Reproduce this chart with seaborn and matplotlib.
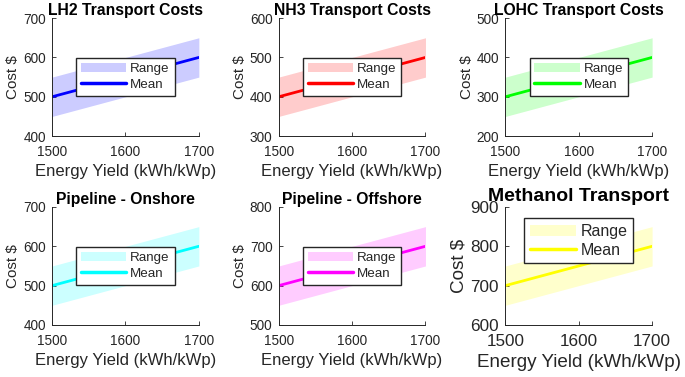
import numpy as np
import seaborn as sns
import matplotlib.pyplot as plt
from matplotlib.patches import Patch
from matplotlib.lines import Line2D

# energy yield (kWh/kWp) and mean costs
energy_yield = [1500, 1600, 1700]
titles = ['LH2 Transport Costs', 'NH3 Transport Costs', 'LOHC Transport Costs',
          'Pipeline - Onshore', 'Pipeline - Offshore', 'Methanol Transport']
lh2_mean = [500, 550, 600]
nh3_mean = [400, 450, 500]
lohc_mean = [300, 350, 400]
onshore_mean = [500, 550, 600]
offshore_mean = [600, 650, 700]
methanol_mean = [700, 750, 800]
spread = 50  # +/- range around the mean
y_limits = [(400, 700), (300, 600), (200, 500), (400, 700), (500, 800), (600, 900)]
colors = ['#0000ff', '#ff0000', '#00ff00', '#00ffff', '#ff00ff', '#ffff00']

means = [lh2_mean, nh3_mean, lohc_mean, onshore_mean, offshore_mean, methanol_mean]

sns.set_style('ticks')
plt.rcParams['font.family'] = ['Liberation Sans', 'DejaVu Sans']
text_col = '#262626'

fig, axes = plt.subplots(2, 3, figsize=(6.85, 3.77), dpi=100)
fig.subplots_adjust(left=0.076, right=0.952, top=0.952, bottom=0.138,
                    wspace=0.544, hspace=0.6)

for i, ax in enumerate(axes.flat):
    m = np.array(means[i])
    c = colors[i]
    big = (i == 5)
    ax.fill_between(energy_yield, m - spread, m + spread, color=c, alpha=0.2,
                    linewidth=0)
    sns.lineplot(x=energy_yield, y=m, ax=ax, color=c, linewidth=2)
    ax.set_xlim(1500, 1700)
    ax.set_ylim(*y_limits[i])
    ax.set_xticks([1500, 1600, 1700])
    lo, hi = y_limits[i]
    ax.set_yticks(np.arange(lo, hi + 1, 100))
    ax.set_title(titles[i], fontsize=14 if big else 11.3, fontweight='bold',
                 color='black', pad=4 if big else 1.5)
    ax.set_xlabel('Energy Yield (kWh/kWp)', fontsize=13.6 if big else 12,
                  color=text_col, labelpad=3.5)
    ax.set_ylabel('Cost $', fontsize=13.6 if big else 11, color=text_col,
                  labelpad=2)
    ax.tick_params(direction='in', length=3, labelsize=12.3 if big else 9.8,
                   colors=text_col, width=0.6)
    ax.tick_params(axis='x', pad=6.5)
    ax.tick_params(axis='y', pad=4.5)
    for s in ['top', 'right']:
        ax.spines[s].set_visible(False)
    for s in ['left', 'bottom']:
        ax.spines[s].set_color(text_col)
        ax.spines[s].set_linewidth(0.7)
    handles = [Patch(facecolor=c, alpha=0.2, edgecolor='none'),
               Line2D([0], [0], color=c, linewidth=2.5)]
    ax.legend(handles, ['Range', 'Mean'], loc='upper center' if big else 'center',
              fontsize=11.5 if big else 9.6, frameon=True, fancybox=False,
              edgecolor=text_col, handlelength=2.9 if big else 3.4,
              borderpad=0.35, labelspacing=0.25, handletextpad=0.3,
              borderaxespad=0.7, framealpha=1)

fig.savefig('out.png', dpi=100)
